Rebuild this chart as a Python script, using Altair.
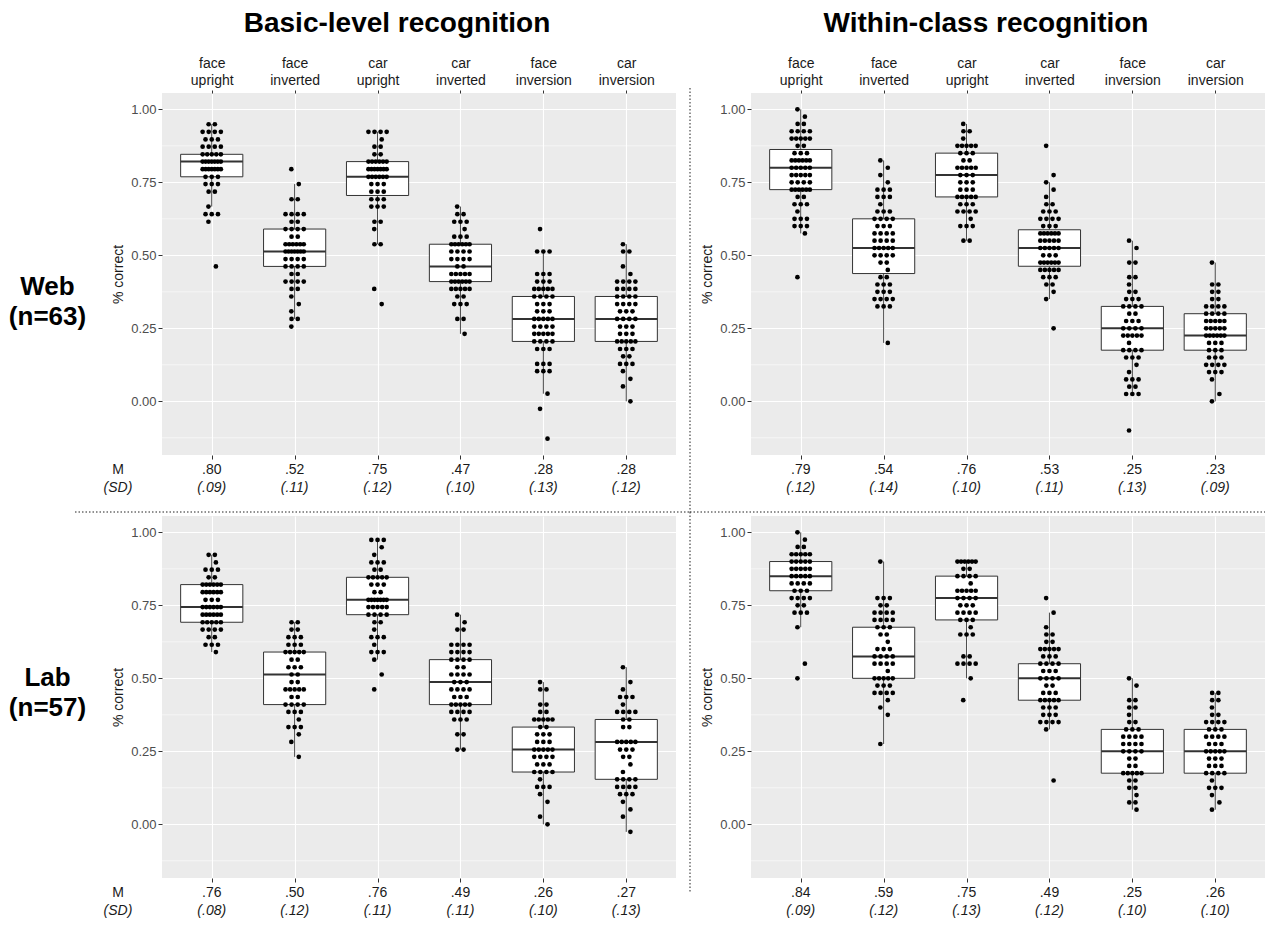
import altair as alt
import pandas as pd

FONT = "Liberation Sans"

CONDS = ["face upright", "face inverted", "car upright", "car inverted",
         "face inversion", "car inversion"]

# ---- observed points: (score, number of dots at that score) ----
web_basic_face_upright = [(0.949, 2), (0.923, 4), (0.897, 3), (0.872, 4), (0.846, 5), (0.821, 7), (0.795, 7),
                          (0.769, 3), (0.744, 3), (0.718, 2), (0.667, 1), (0.641, 3), (0.615, 1), (0.462, 1)]
web_basic_face_inverted = [(0.795, 1), (0.744, 1), (0.692, 2), (0.641, 4), (0.615, 2), (0.590, 4), (0.564, 2),
                           (0.538, 6), (0.513, 7), (0.487, 4), (0.462, 4), (0.436, 2), (0.410, 4), (0.385, 2),
                           (0.359, 1), (0.333, 1), (0.308, 1), (0.282, 2), (0.256, 1)]
web_basic_car_upright = [(0.923, 4), (0.897, 1), (0.872, 2), (0.846, 2), (0.821, 6), (0.795, 7), (0.769, 6),
                         (0.744, 3), (0.718, 3), (0.692, 3), (0.667, 3), (0.615, 2), (0.590, 1), (0.538, 2),
                         (0.385, 1), (0.333, 1)]
web_basic_car_inverted = [(0.667, 1), (0.641, 2), (0.615, 3), (0.590, 1), (0.564, 3), (0.538, 6), (0.513, 4),
                          (0.487, 4), (0.462, 2), (0.436, 5), (0.410, 6), (0.385, 5), (0.359, 2), (0.333, 3),
                          (0.282, 2), (0.231, 1)]
web_basic_face_inversion = [(0.590, 1), (0.513, 3), (0.436, 3), (0.410, 3), (0.385, 5), (0.359, 4), (0.333, 3),
                            (0.308, 3), (0.282, 5), (0.256, 4), (0.231, 5), (0.205, 4), (0.179, 3), (0.128, 3),
                            (0.103, 3), (0.026, 1), (-0.026, 1), (-0.128, 1)]
web_basic_car_inversion = [(0.538, 1), (0.513, 2), (0.462, 1), (0.436, 1), (0.410, 4), (0.385, 4), (0.359, 4),
                           (0.333, 4), (0.308, 3), (0.282, 4), (0.256, 3), (0.231, 3), (0.205, 5), (0.179, 3),
                           (0.154, 2), (0.128, 3), (0.103, 1), (0.077, 1), (0.051, 1), (0.0, 1)]

web_within_face_upright = [(1.0, 1), (0.975, 1), (0.95, 2), (0.925, 4), (0.9, 5), (0.875, 2), (0.85, 3),
                           (0.825, 6), (0.8, 5), (0.775, 5), (0.75, 4), (0.725, 6), (0.7, 2), (0.675, 3),
                           (0.65, 1), (0.625, 3), (0.6, 3), (0.575, 1), (0.425, 1)]
web_within_face_inverted = [(0.825, 1), (0.8, 1), (0.775, 1), (0.75, 1), (0.725, 3), (0.7, 3), (0.675, 1),
                            (0.65, 3), (0.625, 4), (0.6, 3), (0.575, 4), (0.55, 4), (0.525, 5), (0.5, 4),
                            (0.475, 2), (0.45, 1), (0.425, 2), (0.4, 3), (0.375, 3), (0.35, 4), (0.325, 3),
                            (0.2, 1)]
web_within_car_upright = [(0.95, 1), (0.925, 2), (0.9, 1), (0.875, 5), (0.85, 3), (0.825, 2), (0.8, 5),
                          (0.775, 3), (0.75, 3), (0.725, 3), (0.7, 5), (0.675, 3), (0.65, 4), (0.625, 1),
                          (0.6, 3), (0.55, 2)]
web_within_car_inverted = [(0.875, 1), (0.775, 1), (0.75, 1), (0.725, 1), (0.7, 1), (0.675, 2), (0.65, 3),
                           (0.625, 4), (0.6, 3), (0.575, 6), (0.55, 5), (0.525, 5), (0.5, 3), (0.475, 6),
                           (0.45, 5), (0.425, 3), (0.4, 2), (0.375, 1), (0.35, 1), (0.25, 1)]
web_within_face_inversion = [(0.55, 1), (0.525, 1), (0.475, 2), (0.425, 2), (0.4, 1), (0.375, 2), (0.35, 3),
                             (0.325, 4), (0.3, 2), (0.275, 3), (0.25, 4), (0.225, 5), (0.2, 1), (0.175, 4),
                             (0.15, 3), (0.125, 1), (0.1, 1), (0.075, 3), (0.05, 2), (0.025, 3), (-0.1, 1)]
web_within_car_inversion = [(0.475, 1), (0.4, 2), (0.375, 2), (0.35, 2), (0.325, 4), (0.3, 4), (0.275, 5),
                            (0.25, 5), (0.225, 6), (0.2, 3), (0.175, 3), (0.15, 3), (0.125, 4), (0.1, 3),
                            (0.075, 1), (0.025, 1), (0.0, 1)]

lab_basic_face_upright = [(0.923, 2), (0.897, 1), (0.872, 3), (0.846, 2), (0.821, 6), (0.795, 6), (0.769, 3),
                          (0.744, 6), (0.718, 6), (0.692, 5), (0.667, 4), (0.641, 2), (0.615, 3), (0.590, 1)]
lab_basic_face_inverted = [(0.692, 2), (0.667, 2), (0.641, 3), (0.615, 3), (0.590, 5), (0.564, 2), (0.538, 3),
                           (0.513, 2), (0.487, 2), (0.462, 5), (0.436, 2), (0.410, 4), (0.385, 3), (0.359, 1),
                           (0.333, 3), (0.308, 1), (0.282, 1), (0.231, 1)]
lab_basic_car_upright = [(0.974, 3), (0.949, 1), (0.923, 1), (0.897, 3), (0.872, 2), (0.846, 5), (0.821, 3),
                         (0.795, 2), (0.769, 7), (0.744, 5), (0.718, 4), (0.692, 2), (0.667, 1), (0.641, 3),
                         (0.615, 1), (0.590, 3), (0.564, 1), (0.513, 1), (0.462, 1)]
lab_basic_car_inverted = [(0.718, 1), (0.692, 1), (0.667, 2), (0.615, 4), (0.590, 4), (0.564, 4), (0.538, 2),
                          (0.513, 4), (0.487, 3), (0.462, 4), (0.436, 3), (0.410, 5), (0.385, 4), (0.359, 3),
                          (0.308, 2), (0.256, 2)]
lab_basic_face_inversion = [(0.487, 1), (0.462, 2), (0.410, 2), (0.385, 2), (0.359, 5), (0.333, 2), (0.308, 3),
                            (0.282, 3), (0.256, 5), (0.231, 4), (0.205, 3), (0.179, 4), (0.154, 1), (0.128, 3),
                            (0.103, 1), (0.077, 1), (0.026, 1), (0.0, 1)]
lab_basic_car_inversion = [(0.538, 1), (0.487, 1), (0.462, 1), (0.436, 3), (0.410, 1), (0.385, 4), (0.359, 2),
                           (0.333, 2), (0.282, 5), (0.256, 3), (0.231, 2), (0.205, 1), (0.179, 1), (0.154, 4),
                           (0.128, 4), (0.103, 3), (0.077, 1), (0.051, 1), (0.026, 1), (-0.026, 1)]

lab_within_face_upright = [(1.0, 1), (0.975, 1), (0.95, 2), (0.925, 5), (0.9, 5), (0.875, 5), (0.85, 5),
                           (0.825, 4), (0.8, 3), (0.775, 4), (0.75, 2), (0.725, 3), (0.675, 1), (0.55, 1),
                           (0.5, 1)]
lab_within_face_inverted = [(0.9, 1), (0.775, 3), (0.75, 2), (0.725, 4), (0.7, 4), (0.675, 3), (0.65, 2),
                            (0.625, 1), (0.6, 3), (0.575, 4), (0.55, 4), (0.525, 1), (0.5, 5), (0.475, 3),
                            (0.45, 4), (0.425, 1), (0.4, 1), (0.375, 1), (0.275, 1)]
lab_within_car_upright = [(0.9, 6), (0.875, 2), (0.85, 4), (0.825, 1), (0.8, 5), (0.775, 4), (0.75, 3),
                          (0.725, 4), (0.7, 3), (0.675, 1), (0.65, 3), (0.575, 2), (0.55, 4), (0.5, 1),
                          (0.425, 1)]
lab_within_car_inverted = [(0.775, 1), (0.725, 1), (0.675, 1), (0.65, 2), (0.625, 2), (0.6, 5), (0.575, 3),
                           (0.55, 4), (0.525, 3), (0.5, 4), (0.475, 2), (0.45, 3), (0.425, 5), (0.4, 3),
                           (0.375, 3), (0.35, 4), (0.325, 1), (0.15, 1)]
lab_within_face_inversion = [(0.5, 1), (0.475, 1), (0.425, 2), (0.4, 2), (0.375, 1), (0.35, 2), (0.325, 3),
                             (0.3, 4), (0.275, 4), (0.25, 4), (0.225, 2), (0.2, 2), (0.175, 5), (0.15, 2),
                             (0.125, 2), (0.1, 1), (0.075, 2), (0.05, 1)]
lab_within_car_inversion = [(0.45, 2), (0.425, 2), (0.4, 1), (0.375, 2), (0.35, 4), (0.325, 3), (0.3, 4),
                            (0.275, 3), (0.25, 5), (0.225, 3), (0.2, 3), (0.175, 4), (0.15, 1), (0.125, 3),
                            (0.1, 1), (0.075, 1), (0.05, 1)]

# ---- box statistics ----
web_basic_q1 = [0.769, 0.462, 0.705, 0.410, 0.205, 0.205]
web_basic_med = [0.821, 0.513, 0.769, 0.462, 0.282, 0.282]
web_basic_q3 = [0.846, 0.590, 0.821, 0.538, 0.359, 0.359]
web_basic_lo = [0.667, 0.282, 0.538, 0.231, 0.026, 0.0]
web_basic_hi = [0.949, 0.744, 0.923, 0.667, 0.513, 0.538]

web_within_q1 = [0.725, 0.4375, 0.70, 0.4625, 0.175, 0.175]
web_within_med = [0.80, 0.525, 0.775, 0.525, 0.25, 0.225]
web_within_q3 = [0.8625, 0.625, 0.85, 0.5875, 0.325, 0.30]
web_within_lo = [0.575, 0.2, 0.55, 0.35, 0.025, 0.0]
web_within_hi = [1.0, 0.825, 0.95, 0.75, 0.55, 0.475]

lab_basic_q1 = [0.692, 0.410, 0.718, 0.410, 0.179, 0.154]
lab_basic_med = [0.744, 0.513, 0.769, 0.487, 0.256, 0.282]
lab_basic_q3 = [0.821, 0.590, 0.846, 0.564, 0.333, 0.359]
lab_basic_lo = [0.590, 0.231, 0.564, 0.256, 0.0, -0.026]
lab_basic_hi = [0.923, 0.692, 0.974, 0.718, 0.487, 0.538]

lab_within_q1 = [0.80, 0.50, 0.70, 0.425, 0.175, 0.175]
lab_within_med = [0.85, 0.575, 0.775, 0.50, 0.25, 0.25]
lab_within_q3 = [0.90, 0.675, 0.85, 0.55, 0.325, 0.325]
lab_within_lo = [0.675, 0.275, 0.50, 0.325, 0.05, 0.05]
lab_within_hi = [1.0, 0.90, 0.90, 0.725, 0.50, 0.45]

# ---- means and SDs printed under the panels ----
web_basic_m = [0.80, 0.52, 0.75, 0.47, 0.28, 0.28]
web_basic_sd = [0.09, 0.11, 0.12, 0.10, 0.13, 0.12]
web_within_m = [0.79, 0.54, 0.76, 0.53, 0.25, 0.23]
web_within_sd = [0.12, 0.14, 0.10, 0.11, 0.13, 0.09]
lab_basic_m = [0.76, 0.50, 0.76, 0.49, 0.26, 0.27]
lab_basic_sd = [0.08, 0.12, 0.11, 0.11, 0.10, 0.13]
lab_within_m = [0.84, 0.59, 0.75, 0.49, 0.25, 0.26]
lab_within_sd = [0.09, 0.12, 0.13, 0.12, 0.10, 0.10]

Y_TICKS = [0.0, 0.25, 0.5, 0.75, 1.0]
Y_MINOR = [-0.125, 0.125, 0.375, 0.625, 0.875]

W, H = 514, 362
LABEL_W = 79
GAP_X = 75
GAP_Y = 61
YSC = alt.Scale(domain=[-0.184, 1.056], nice=False, zero=False)
XSC = alt.Scale(domain=[0.4, 6.6], nice=False, zero=False)
ONE = pd.DataFrame({"a": [0]})


def short(v):
    return ("%.2f" % v)[1:]


def layout_points(lists):
    rows = []
    for ci, levels in enumerate(lists):
        idx = ci + 1
        for li, (v, k) in enumerate(levels):
            if k == 1:
                offs = [0.05 if li % 2 else -0.04]
            else:
                step = min(0.075, 0.22 / (k - 1))
                offs = [(j - (k - 1) / 2) * step for j in range(k)]
            for o in offs:
                rows.append({"idx": idx, "xp": idx + o, "value": v})
    return pd.DataFrame(rows)


label_expr = ""
for i, c in enumerate(CONDS):
    a, b = c.split(" ")
    label_expr += "datum.value == %d ? ['%s', '%s'] : " % (i + 1, a, b)
label_expr += "''"

Y_AXIS = alt.Axis(values=Y_TICKS, format=".2f", title="% correct", grid=True, gridColor="white",
                  gridWidth=1.1, domain=False, tickColor="#333333", tickSize=4, tickWidth=1,
                  labelColor="#4D4D4D", labelFontSize=13, labelFont=FONT, labelPadding=2,
                  labelOverlap=False, titleFont=FONT, titleFontSize=14, titleColor="#1a1a1a",
                  titleFontWeight="normal", titlePadding=5)
TOP_AXIS = alt.Axis(orient="top", values=[1, 2, 3, 4, 5, 6], labelExpr=label_expr, title=None,
                    grid=False, domain=False, ticks=True, tickColor="#333333", tickSize=3,
                    labelColor="#1a1a1a", labelFontSize=14, labelFont=FONT, labelLineHeight=17,
                    labelBaseline="bottom", labelPadding=20, labelOverlap=False, labelFlush=False)
BOTTOM_AXIS = alt.Axis(orient="bottom", values=[1, 2, 3, 4, 5, 6], labels=False, title=None,
                       grid=True, gridColor="white", gridWidth=1.1, domain=False, ticks=True,
                       tickColor="#333333", tickSize=4)


def panel(point_lists, q1, med, q3, lo, hi, means, sds, top, left, title=None, dotted=None):
    box_df = pd.DataFrame({
        "idx": list(range(1, 7)),
        "xl": [i + 1 - 0.375 for i in range(6)],
        "xr": [i + 1 + 0.375 for i in range(6)],
        "q1": q1, "med": med, "q3": q3, "lo": lo, "hi": hi,
        "m": [short(v) for v in means],
        "sd": ["(" + short(v) + ")" for v in sds],
    })
    pts = layout_points(point_lists)

    minor = alt.Chart(pd.DataFrame({"v": Y_MINOR})).mark_rule(color="white", strokeWidth=0.55).encode(
        y=alt.Y("v:Q", scale=YSC, axis=Y_AXIS), x=alt.value(0), x2=alt.value(W))
    whisk_hi = alt.Chart(box_df).mark_rule(color="#333333", strokeWidth=0.9).encode(
        x=alt.X("idx:Q", scale=XSC, axis=None),
        y=alt.Y("q3:Q", scale=YSC, axis=Y_AXIS), y2="hi:Q")
    whisk_lo = alt.Chart(box_df).mark_rule(color="#333333", strokeWidth=0.9).encode(
        x=alt.X("idx:Q", scale=XSC, axis=None),
        y=alt.Y("lo:Q", scale=YSC, axis=Y_AXIS), y2="q1:Q")
    boxes = alt.Chart(box_df).mark_rect(fill="white", stroke="#333333", strokeWidth=1).encode(
        x=alt.X("xl:Q", scale=XSC, axis=TOP_AXIS if top else None), x2="xr:Q",
        y=alt.Y("q1:Q", scale=YSC, axis=Y_AXIS), y2="q3:Q")
    medians = alt.Chart(box_df).mark_rule(color="#333333", strokeWidth=2).encode(
        x=alt.X("xl:Q", scale=XSC, axis=None), x2="xr:Q",
        y=alt.Y("med:Q", scale=YSC, axis=Y_AXIS))
    dots = alt.Chart(pts).mark_circle(size=22, color="black", opacity=1).encode(
        x=alt.X("xp:Q", scale=XSC, axis=BOTTOM_AXIS),
        y=alt.Y("value:Q", scale=YSC, axis=Y_AXIS))
    m_txt = alt.Chart(box_df).mark_text(font=FONT, fontSize=14, color="#1a1a1a", baseline="middle").encode(
        x=alt.X("idx:Q", scale=XSC, axis=None), y=alt.value(H + 15), text="m:N")
    sd_txt = alt.Chart(box_df).mark_text(font=FONT, fontSize=14, fontStyle="italic", color="#1a1a1a",
                                         baseline="middle").encode(
        x=alt.X("idx:Q", scale=XSC, axis=None), y=alt.value(H + 33), text="sd:N")

    layers = [minor, whisk_hi, whisk_lo, boxes, medians, dots, m_txt, sd_txt]

    if left:
        layers.append(alt.Chart(ONE).mark_text(font=FONT, fontSize=14, color="#1a1a1a",
                                               baseline="middle").encode(
            x=alt.value(-44), y=alt.value(H + 15), text=alt.value("M")))
        layers.append(alt.Chart(ONE).mark_text(font=FONT, fontSize=14, fontStyle="italic", color="#1a1a1a",
                                               baseline="middle").encode(
            x=alt.value(-44), y=alt.value(H + 33), text=alt.value("(SD)")))
    if title is not None:
        layers.append(alt.Chart(ONE).mark_text(font=FONT, fontSize=28, fontWeight="bold", color="black",
                                               baseline="middle").encode(
            x=alt.value(W / 2 - 22), y=alt.value(-69), text=alt.value(title)))
    if dotted is not None:
        for (x1, x2, y1, y2) in dotted:
            if x1 == x2:
                enc = dict(x=alt.value(x1), y=alt.value(y1), y2=alt.value(y2))
            else:
                enc = dict(x=alt.value(x1), x2=alt.value(x2), y=alt.value(y1))
            layers.append(alt.Chart(ONE).mark_rule(color="#222222", strokeWidth=1,
                                                   strokeDash=[1.5, 2]).encode(**enc))

    return alt.layer(*layers).resolve_axis(x="independent").properties(
        width=W, height=H, view=alt.ViewBackground(fill="#EBEBEB", stroke=None))


def row_label(text, ypos):
    return alt.Chart(pd.DataFrame({"t": [text]})).mark_text(
        font=FONT, fontSize=26, fontWeight="bold", color="black", lineBreak="\n", lineHeight=30,
        align="center", baseline="middle").encode(
        x=alt.value(LABEL_W / 2), y=alt.value(ypos), text="t:N").properties(
        width=LABEL_W, height=H, view=alt.ViewBackground(fill=None, stroke=None, strokeOpacity=0))


web_basic_pts = [web_basic_face_upright, web_basic_face_inverted, web_basic_car_upright,
                 web_basic_car_inverted, web_basic_face_inversion, web_basic_car_inversion]
web_within_pts = [web_within_face_upright, web_within_face_inverted, web_within_car_upright,
                  web_within_car_inverted, web_within_face_inversion, web_within_car_inversion]
lab_basic_pts = [lab_basic_face_upright, lab_basic_face_inverted, lab_basic_car_upright,
                 lab_basic_car_inverted, lab_basic_face_inversion, lab_basic_car_inversion]
lab_within_pts = [lab_within_face_upright, lab_within_face_inverted, lab_within_car_upright,
                  lab_within_car_inverted, lab_within_face_inversion, lab_within_car_inversion]

YSEP = H + GAP_Y - 4
XSEP = W + 14
p11 = panel(web_basic_pts, web_basic_q1, web_basic_med, web_basic_q3, web_basic_lo, web_basic_hi,
            web_basic_m, web_basic_sd, top=True, left=True, title="Basic-level recognition",
            dotted=[(XSEP, XSEP, -5, YSEP), (-87, XSEP, YSEP, YSEP)])
p12 = panel(web_within_pts, web_within_q1, web_within_med, web_within_q3, web_within_lo, web_within_hi,
            web_within_m, web_within_sd, top=True, left=False, title="Within-class recognition",
            dotted=[(XSEP - W - GAP_X, W, YSEP, YSEP)])
p21 = panel(lab_basic_pts, lab_basic_q1, lab_basic_med, lab_basic_q3, lab_basic_lo, lab_basic_hi,
            lab_basic_m, lab_basic_sd, top=False, left=True,
            dotted=[(XSEP, XSEP, -4, H + 14)])
p22 = panel(lab_within_pts, lab_within_q1, lab_within_med, lab_within_q3, lab_within_lo, lab_within_hi,
            lab_within_m, lab_within_sd, top=False, left=False)

chart = alt.concat(
    row_label("Web\n(n=63)", 194), p11, p12,
    row_label("Lab\n(n=57)", 162), p21, p22,
    columns=3, spacing={"row": GAP_Y, "column": GAP_X}, bounds="flush",
).properties(padding={"top": 2, "left": 0, "right": 0, "bottom": 0}).configure_view(
    strokeOpacity=0).configure(font=FONT)

chart.save("out.html", embed_options={"renderer": "svg", "actions": False})
